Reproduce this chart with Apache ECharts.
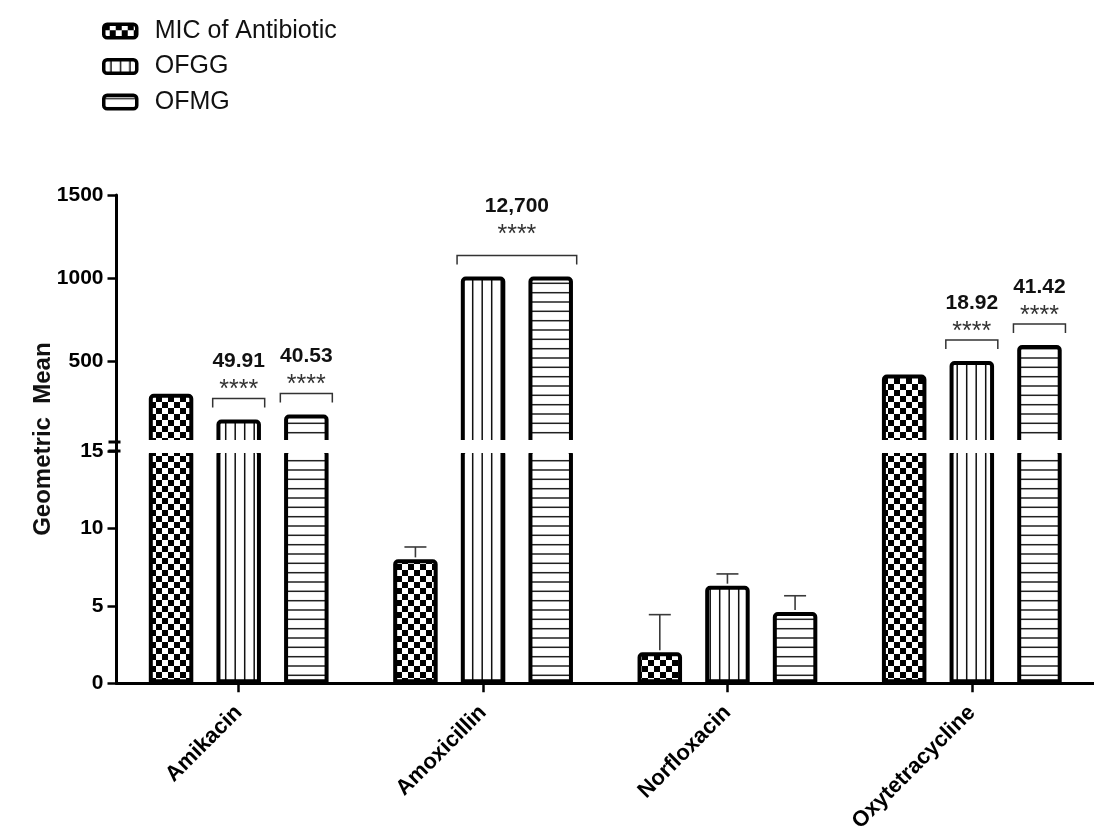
<!DOCTYPE html>
<html><head><meta charset="utf-8">
<script src="https://cdn.jsdelivr.net/npm/echarts@6/dist/echarts.min.js"></script>
<style>html,body{margin:0;padding:0;background:#fff}#c{width:1094px;height:835px}</style>
</head><body><div id="c"></div>
<script>
// ---------- DATA ----------
const categories = ['Amikacin', 'Amoxicillin', 'Norfloxacin', 'Oxytetracycline'];
const seriesNames = ['MIC of Antibiotic', 'OFGG', 'OFMG'];
const micValues  = [305, 8, 2, 421];
const ofggValues = [150, 1010, 6.3, 502];
const ofmgValues = [180, 1010, 4.6, 598];
const micError  = [null, 0.8, 2.43, null];
const ofggError = [null, null, 0.76, null];
const ofmgError = [null, null, 1.05, null];
const upperTicks = [500, 1000, 1500];
const lowerInterval = 5;
const annotCategory = [0, 0, 1, 3, 3];
const annotFrom     = [1, 2, 1, 1, 2];
const annotTo       = [1, 2, 2, 1, 2];
const annotValue    = ['49.91', '40.53', '12,700', '18.92', '41.42'];
const annotStars    = ['****', '****', '****', '****', '****'];
const yAxisTitle = 'Geometric  Mean';

// ---------- STYLE / LAYOUT ----------
const FONT = '"Liberation Sans", Arial, sans-serif';
const BAR_W = 44.5, BAR_GAP = 0.52;
const GRID_LEFT = 116.5, GRID_W = 988;
const BREAK_LOW = 15, BREAK_HIGH = 1500;

function tile(w, h, draw) {
  const c = document.createElement('canvas');
  c.width = w; c.height = h;
  const ctx = c.getContext('2d');
  ctx.fillStyle = '#fff'; ctx.fillRect(0, 0, w, h);
  draw(ctx);
  return c;
}
const checker = tile(12, 12, ctx => { ctx.fillStyle = '#000'; ctx.fillRect(0, 0, 6, 6); ctx.fillRect(6, 6, 6, 6); });
const vlines = tile(19, 8, ctx => { ctx.fillStyle = '#111'; ctx.fillRect(6.45, 0, 1.5, 8); ctx.fillRect(15.95, 0, 1.5, 8); });
const hlines = tile(8, 28, ctx => { ctx.fillStyle = '#222'; [3.3, 12.7, 22].forEach(y => ctx.fillRect(0, y - 0.75, 8, 1.5)); });
const patterns = [checker, vlines, hlines];

const values = [micValues, ofggValues, ofmgValues];
const errors = [micError, ofggError, ofmgError];

const chart = echarts.init(document.getElementById('c'), null, { renderer: 'canvas' });

function barSeries(i, g) {
  return {
    name: seriesNames[i], type: 'bar', xAxisIndex: g, yAxisIndex: g,
    data: values[i], barWidth: BAR_W, barGap: (BAR_GAP * 100) + '%',
    itemStyle: { color: { image: patterns[i], repeat: 'repeat' }, borderColor: '#000', borderWidth: 4, borderRadius: [3, 3, 0, 0] },
    emphasis: { disabled: true }, z: 2
  };
}

const errData = [];
errors.forEach((arr, i) => arr.forEach((e, c) => { if (e != null) errData.push([c, values[i][c], i, values[i][c] + e]); }));

const annData = annotCategory.map((c, k) => {
  let m = -Infinity;
  for (let j = annotFrom[k]; j <= annotTo[k]; j++) m = Math.max(m, values[j][c]);
  return [c, m, annotFrom[k], annotTo[k], k];
});

const step = BAR_W * (1 + BAR_GAP);

function renderErr(params, api) {
  const c = api.value(0), v = api.value(1), i = api.value(2), top = api.value(3);
  const p = api.coord([c, v]), t = api.coord([c, top]);
  const x = p[0] + (i - 1) * step;
  const st = { stroke: '#3a3a3a', lineWidth: 1.6 };
  return { type: 'group', children: [
    { type: 'line', shape: { x1: x, y1: p[1] - 2, x2: x, y2: t[1] }, style: st },
    { type: 'line', shape: { x1: x - 11, y1: t[1], x2: x + 11, y2: t[1] }, style: st }
  ]};
}

function renderAnn(params, api) {
  const c = api.value(0), m = api.value(1), f = api.value(2), to = api.value(3), k = api.value(4);
  const p = api.coord([c, m]);
  const xl = p[0] + (f - 1) * step - 26, xr = p[0] + (to - 1) * step + 26;
  const yT = p[1] - 21;
  const lift = (to > f) ? 12.6 : 0;
  const xc = (xl + xr) / 2;
  return { type: 'group', children: [
    { type: 'polyline', shape: { points: [[xl, yT + 9], [xl, yT], [xr, yT], [xr, yT + 9]] }, style: { stroke: '#333', lineWidth: 1.5, fill: null } },
    { type: 'text', x: xc, y: yT - 8 - lift, style: { text: annotStars[k], font: '25px ' + FONT, fill: '#333', align: 'center', verticalAlign: 'middle' } },
    { type: 'text', x: xc, y: yT - 37 - lift, style: { text: annotValue[k], font: 'bold 21px ' + FONT, fill: '#111', align: 'center', verticalAlign: 'middle' } }
  ]};
}

const axisLineSt = { show: true, lineStyle: { color: '#000', width: 3 } };
const tickSt = { show: true, length: 9, lineStyle: { color: '#000', width: 2.5 } };
const labelSt = { color: '#000', fontSize: 21, fontWeight: 'bold', fontFamily: FONT };
const plain = v => String(v);

const option = {
  animation: false,
  backgroundColor: '#fff',
  legend: {
    orient: 'vertical', left: 97, top: 13, itemWidth: 33, itemHeight: 13.5, itemGap: 9.5,
    icon: 'roundRect', selectedMode: false, data: seriesNames,
    itemStyle: { borderWidth: 3.5, borderColor: '#000' },
    textStyle: { fontSize: 25, fontFamily: FONT, color: '#111', lineHeight: 26, padding: [0, 0, 0, 13] }
  },
  grid: [
    { left: GRID_LEFT, width: GRID_W, top: 195, height: 247 },
    { left: GRID_LEFT, width: GRID_W, top: 451, height: 237 }
  ],
  xAxis: [
    { type: 'category', gridIndex: 0, data: categories, show: false },
    { type: 'category', gridIndex: 1, data: categories,
      axisLine: axisLineSt, axisTick: Object.assign({ alignWithLabel: true }, tickSt),
      axisLabel: Object.assign({}, labelSt, { rotate: 45, margin: 26, interval: 0, fontSize: 22 }) }
  ],
  yAxis: [
    { type: 'value', gridIndex: 0, min: BREAK_LOW, max: BREAK_HIGH,
      axisLine: axisLineSt, axisTick: Object.assign({ customValues: upperTicks }, tickSt),
      axisLabel: Object.assign({ customValues: upperTicks, margin: 13, formatter: plain }, labelSt), splitLine: { show: false } },
    { type: 'value', gridIndex: 1, min: 0, max: BREAK_LOW, interval: lowerInterval,
      axisLine: axisLineSt, axisTick: tickSt,
      axisLabel: Object.assign({ margin: 13, formatter: plain }, labelSt), splitLine: { show: false } }
  ],
  series: [
    barSeries(0, 0), barSeries(1, 0), barSeries(2, 0),
    barSeries(0, 1), barSeries(1, 1), barSeries(2, 1),
    { name: 'errorbars', type: 'custom', xAxisIndex: 1, yAxisIndex: 1, data: errData, renderItem: renderErr, z: 3,
      encode: { x: 0, y: 1 } },
    { name: 'significance', type: 'custom', xAxisIndex: 0, yAxisIndex: 0, data: annData, renderItem: renderAnn, z: 3,
      encode: { x: 0, y: 1 }, clip: false }
  ]
};
chart.setOption(option);

// break decorations derived from the axes
const yUp = chart.convertToPixel({ yAxisIndex: 0 }, BREAK_LOW);
const yLo = chart.convertToPixel({ yAxisIndex: 1 }, BREAK_LOW);
const c0 = chart.convertToPixel({ xAxisIndex: 1 }, 0), c1 = chart.convertToPixel({ xAxisIndex: 1 }, 1);
const xAx = c0 - (c1 - c0) / 2;
const midY = (chart.convertToPixel({ yAxisIndex: 0 }, BREAK_HIGH) + chart.convertToPixel({ yAxisIndex: 1 }, 0)) / 2;
chart.setOption({
  graphic: [
    { type: 'rect', z: 100, shape: { x: xAx + 3, y: yUp - 2, width: 1200, height: yLo - yUp + 4 }, style: { fill: '#fff' } },
    { type: 'line', z: 101, shape: { x1: xAx, y1: yUp, x2: xAx, y2: yLo }, style: { stroke: '#000', lineWidth: 3 } },
    { type: 'line', z: 101, shape: { x1: xAx - 8, y1: yUp, x2: xAx + 4, y2: yUp }, style: { stroke: '#000', lineWidth: 3 } },
    { type: 'line', z: 101, shape: { x1: xAx - 8, y1: yLo, x2: xAx + 4, y2: yLo }, style: { stroke: '#000', lineWidth: 3 } },
    { type: 'text', z: 101, x: 43, y: midY, rotation: Math.PI / 2,
      style: { text: yAxisTitle, font: 'bold 24px ' + FONT, fill: '#111', align: 'center', verticalAlign: 'middle' } }
  ]
});
</script></body></html>
